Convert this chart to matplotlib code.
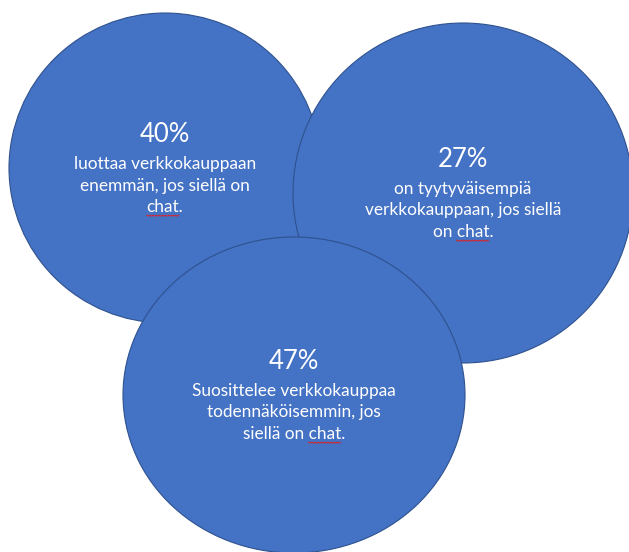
import matplotlib
matplotlib.use("Agg")
import matplotlib.pyplot as plt
import numpy as np
from matplotlib.patches import Ellipse

# values and texts
percents = ["40%", "27%", "47%"]
labels = [
    ["luottaa verkkokauppaan", "enemmän, jos siellä on", "chat."],
    ["on tyytyväisempiä", "verkkokauppaan, jos siellä", "on chat."],
    ["Suosittelee verkkokauppaa", "todennäköisemmin, jos", "siellä on chat."],
]

# layout in pixels (origin top-left), drawn in this order
centers = [(165, 168), (463, 193), (294, 395)]
radii = [(156, 155), (170, 170), (171, 158)]
pct_base = [142, 167, 369]
first_gap = 27
line_gap = 21.5

fill = "#4472C4"
edge = "#2F528F"

plt.rcParams['font.family'] = ['Lato', 'DejaVu Sans']

fig = plt.figure(figsize=(6.29, 5.52), dpi=100)
ax = fig.add_axes([0, 0, 1, 1])
ax.set_xlim(0, 629)
ax.set_ylim(552, 0)
ax.axis("off")
renderer = fig.canvas.get_renderer()

def text_w(s, size):
    t = ax.text(0, 0, s, fontsize=size)
    w = t.get_window_extent(renderer).width
    t.remove()
    return w

body_size = 12.4
for i in range(3):
    cx, cy = centers[i]
    rx, ry = radii[i]
    ax.add_patch(Ellipse((cx, cy), 2 * rx, 2 * ry, facecolor=fill,
                         edgecolor=edge, linewidth=0.8, zorder=i + 1))
    ax.text(cx, pct_base[i], percents[i], color="white", fontsize=18.5,
            ha="center", va="baseline", zorder=10)
    for k, line in enumerate(labels[i]):
        y = pct_base[i] + first_gap + k * line_gap
        ax.text(cx, y, line, color="white", fontsize=body_size,
                ha="center", va="baseline", zorder=10)
        if "chat" in line:
            # spell-check squiggle under "chat"
            pre = line[:line.index("chat")]
            full_w = text_w(line, body_size)
            x0 = cx - full_w / 2 + text_w(pre + "chat", body_size) - text_w("chat", body_size)
            x1 = x0 + text_w("chat", body_size)
            xs = np.arange(x0, x1 + 0.1, 1.6)
            ys = y + 3.2 + 1.0 * (np.arange(len(xs)) % 2)
            ax.plot(xs, ys, color="#e02020", linewidth=0.7, zorder=11)

fig.savefig("out.png", dpi=100)
